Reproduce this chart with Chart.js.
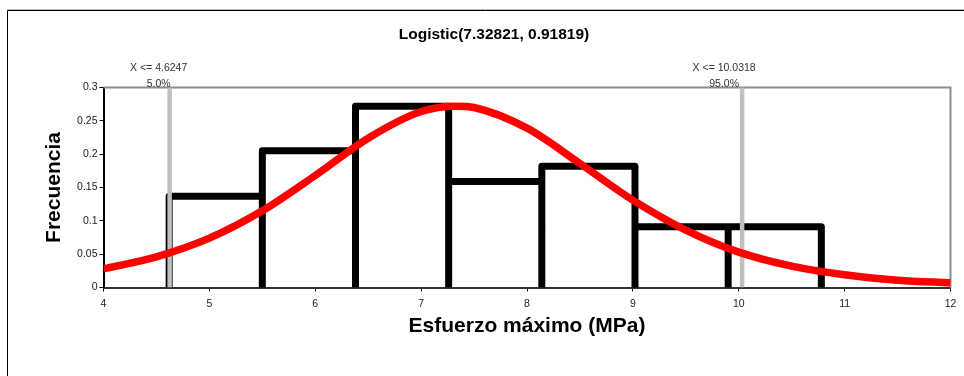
<!DOCTYPE html>
<html>
<head>
<meta charset="utf-8">
<title>Logistic(7.32821, 0.91819)</title>
<script src="https://cdn.jsdelivr.net/npm/chart.js@4.4.1/dist/chart.umd.min.js"></script>
<style>
  html, body { margin: 0; padding: 0; background: #fff; }
  canvas { display: block; }
</style>
</head>
<body>
<canvas id="chart" width="964" height="376"></canvas>
<script>
// Histograma (bordes de las clases y alturas)
const binEdges = [4.62, 5.50, 6.38, 7.26, 8.14, 9.02, 9.90, 10.78];
const binHeights = [0.137, 0.205, 0.272, 0.159, 0.182, 0.091, 0.091];

// Curva ajustada
const curveX = [4, 4.5, 5, 5.5, 6, 6.5, 7, 7.33, 7.5, 8, 8.5, 9, 9.5, 10, 10.5, 11, 11.5, 12];
const curveY = [0.028, 0.046, 0.074, 0.115, 0.168, 0.224, 0.264, 0.272, 0.270, 0.239, 0.186, 0.131, 0.086, 0.053, 0.032, 0.019, 0.011, 0.007];

// Marcadores de percentiles
const markerX = [4.6247, 10.0318];
const markerText = ['X <= 4.6247', 'X <= 10.0318'];
const markerPct = ['5.0%', '95.0%'];

// Ejes
const xTicks = [4, 5, 6, 7, 8, 9, 10, 11, 12];
const yTicks = [0, 0.05, 0.1, 0.15, 0.2, 0.25, 0.3];
const yTickLabels = ['0', '0.05', '0.1', '0.15', '0.2', '0.25', '0.3'];

const FONT = "'Liberation Sans', Arial, sans-serif";

// Contorno de las barras: sube, cruza y baja en cada clase
const histPoints = [];
binHeights.forEach((h, i) => {
    histPoints.push({ x: binEdges[i], y: 0 });
    histPoints.push({ x: binEdges[i], y: h });
    histPoints.push({ x: binEdges[i + 1], y: h });
    histPoints.push({ x: binEdges[i + 1], y: 0 });
});

const curvePoints = curveX.map((x, i) => ({ x: x, y: curveY[i] }));

const markerSets = markerX.map(x => ({
    data: [{ x: x, y: yTicks[0] }, { x: x, y: yTicks[yTicks.length - 1] }],
    borderColor: '#c0c0c0',
    borderWidth: 4.5,
    pointRadius: 0,
    showLine: true,
    clip: 0,
    order: 2
}));

const framePlugin = {
    id: 'frame',
    beforeDraw(chart) {
        const ctx = chart.ctx;
        ctx.save();
        ctx.fillStyle = '#fff';
        ctx.fillRect(0, 0, chart.width, chart.height);
        ctx.lineWidth = 1;
        ctx.strokeStyle = '#b8b8b8';
        ctx.beginPath();
        ctx.moveTo(7, 9.5);
        ctx.lineTo(chart.width, 9.5);
        ctx.stroke();
        ctx.strokeStyle = '#000';
        ctx.beginPath();
        ctx.moveTo(7.5, chart.height);
        ctx.lineTo(7.5, 10.5);
        ctx.lineTo(chart.width, 10.5);
        ctx.stroke();
        ctx.restore();
    },
    beforeDatasetsDraw(chart) {
        const { ctx, chartArea: a } = chart;
        ctx.save();
        ctx.strokeStyle = '#8c8c8c';
        ctx.lineWidth = 2;
        ctx.beginPath();
        ctx.moveTo(a.left, a.top);
        ctx.lineTo(a.right, a.top);
        ctx.lineTo(a.right, a.bottom);
        ctx.stroke();
        ctx.restore();
    },
    afterDraw(chart) {
        const ctx = chart.ctx;
        const xs = chart.scales.x;
        const shift = [-11, -18];
        ctx.save();
        ctx.font = '10.5px ' + FONT;
        ctx.fillStyle = '#333';
        ctx.textAlign = 'center';
        ctx.textBaseline = 'middle';
        markerX.forEach((v, i) => {
            const px = xs.getPixelForValue(v) + shift[i];
            ctx.fillText(markerText[i], px, 68);
            ctx.fillText(markerPct[i], px, 84);
        });
        ctx.restore();
    }
};

const ctx = document.getElementById('chart').getContext('2d');
const chart = new Chart(ctx, {
    type: 'scatter',
    data: {
        datasets: [
            {
                data: curvePoints,
                borderColor: '#ff0000',
                borderWidth: 7.5,
                pointRadius: 0,
                showLine: true,
                cubicInterpolationMode: 'monotone',
                clip: 0,
                order: 1
            },
            ...markerSets,
            {
                data: histPoints,
                borderColor: '#000',
                borderWidth: 7,
                borderJoinStyle: 'round',
                pointRadius: 0,
                showLine: true,
                clip: 0,
                order: 3
            }
        ]
    },
    options: {
        responsive: false,
        animation: false,
        devicePixelRatio: 1,
        layout: { padding: { left: 37.5, right: 13.5, top: 0, bottom: 0 } },
        plugins: {
            legend: { display: false },
            tooltip: { enabled: false },
            title: {
                display: true,
                text: 'Logistic(7.32821, 0.91819)',
                color: '#000',
                font: { family: FONT, size: 15.5, weight: 'bold' },
                padding: { top: 25.7, bottom: 43.2 }
            }
        },
        scales: {
            x: {
                type: 'linear',
                min: xTicks[0],
                max: xTicks[xTicks.length - 1],
                afterBuildTicks: s => { s.ticks = xTicks.map(v => ({ value: v })); },
                afterFit: s => { s.height = 88.5; },
                ticks: {
                    autoSkip: false,
                    maxRotation: 0,
                    padding: 6,
                    color: '#222',
                    font: { family: FONT, size: 10.5 },
                    callback: v => String(v)
                },
                grid: { drawOnChartArea: false, drawTicks: true, tickLength: 4, tickColor: '#000', tickWidth: 1 },
                border: { display: true, color: '#333', width: 2 },
                title: {
                    display: true,
                    text: 'Esfuerzo máximo (MPa)',
                    color: '#000',
                    font: { family: FONT, size: 21, weight: 'bold' },
                    padding: { top: 0, bottom: 37.4 }
                }
            },
            y: {
                type: 'linear',
                min: yTicks[0],
                max: yTicks[yTicks.length - 1],
                afterBuildTicks: s => { s.ticks = yTicks.map(v => ({ value: v })); },
                afterFit: s => { s.width = 66; },
                ticks: {
                    padding: 2,
                    color: '#222',
                    font: { family: FONT, size: 10.5 },
                    callback: (v, i) => yTickLabels[i]
                },
                grid: { drawOnChartArea: false, drawTicks: true, tickLength: 4, tickColor: '#000', tickWidth: 1 },
                border: { display: true, color: '#000', width: 2 },
                title: {
                    display: true,
                    text: 'Frecuencia',
                    color: '#000',
                    font: { family: FONT, size: 21, weight: 'bold' },
                    padding: { top: 4, bottom: 0 }
                }
            }
        }
    },
    plugins: [framePlugin]
});
</script>
</body>
</html>
